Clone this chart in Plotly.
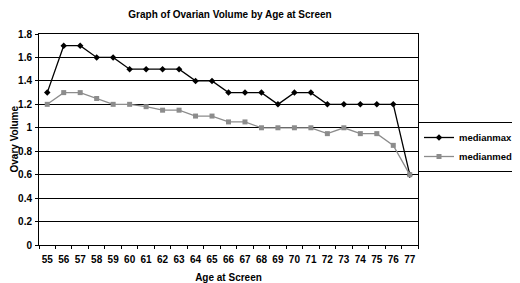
import plotly.graph_objects as go

ages = [str(a) for a in range(55, 78)]
medianmax = [1.3, 1.7, 1.7, 1.6, 1.6, 1.5, 1.5, 1.5, 1.5, 1.4, 1.4, 1.3, 1.3, 1.3, 1.2, 1.3, 1.3, 1.2, 1.2, 1.2, 1.2, 1.2, 0.6]
medianmed = [1.2, 1.3, 1.3, 1.25, 1.2, 1.2, 1.18, 1.15, 1.15, 1.1, 1.1, 1.05, 1.05, 1.0, 1.0, 1.0, 1.0, 0.95, 1.0, 0.95, 0.95, 0.85, 0.6]

FONT = "Liberation Sans, Arial, sans-serif"

# page body has an 8px margin, so figure coords = window coords - 8
W, H = 512, 275
L, R, T, B = 31, 410, 26, 237

fig = go.Figure()
fig.add_trace(go.Scatter(x=ages, y=medianmax, name="<b>medianmax</b>", mode="lines+markers",
                         line=dict(color="black", width=1.3),
                         marker=dict(symbol="diamond", size=5, color="black")))
fig.add_trace(go.Scatter(x=ages, y=medianmed, name="<b>medianmed</b>", mode="lines+markers",
                         line=dict(color="#8c8c8c", width=1.3),
                         marker=dict(symbol="square", size=5, color="#8c8c8c")))

fig.update_layout(
    width=W, height=H,
    margin=dict(l=L, r=W - R, t=T, b=H - B, pad=0, autoexpand=False),
    paper_bgcolor="white", plot_bgcolor="white",
    font=dict(family=FONT, size=10, color="black"),
    title=dict(text="<b>Graph of Ovarian Volume by Age at Screen</b>", x=222 / W,
               xanchor="center", y=1 - 6 / H, yanchor="middle",
               font=dict(family=FONT, size=10, color="black")),
    showlegend=True,
    legend=dict(x=(510 - L) / (R - L), y=(B - 114) / (B - T), xanchor="right", yanchor="top",
                bordercolor="black", borderwidth=1, bgcolor="white",
                font=dict(family=FONT, size=9.5, color="black"),
                tracegroupgap=0, itemwidth=30),
    annotations=[dict(text="<b>Ovary Volume</b>", textangle=-90, showarrow=False,
                      xref="paper", yref="paper", x=(6 - L) / (R - L), y=0.5,
                      xanchor="center", yanchor="middle",
                      font=dict(family=FONT, size=10, color="black"))],
)
fig.update_xaxes(type="category", range=[-0.5, 22.5], showline=True, linecolor="black", linewidth=1,
                 mirror=True, ticks="outside", ticklen=3, tickcolor="black", tickson="boundaries",
                 tickangle=0, showgrid=False, tickfont=dict(family=FONT, size=10, color="black"),
                 ticklabelstandoff=5,
                 title=dict(text="<b>Age at Screen</b>", standoff=10, font=dict(family=FONT, size=10)),
                 tickprefix="<b>", ticksuffix="</b>")
fig.update_yaxes(range=[0, 1.8], dtick=0.2, showline=True, linecolor="black", linewidth=1, mirror=True,
                 ticks="outside", ticklen=3, tickcolor="black", showgrid=True, gridcolor="black", gridwidth=1,
                 zeroline=False, tickfont=dict(family=FONT, size=10, color="black"),
                 ticklabelstandoff=1,
                 tickprefix="<b>", ticksuffix="</b>")

fig.write_html("out.html")
